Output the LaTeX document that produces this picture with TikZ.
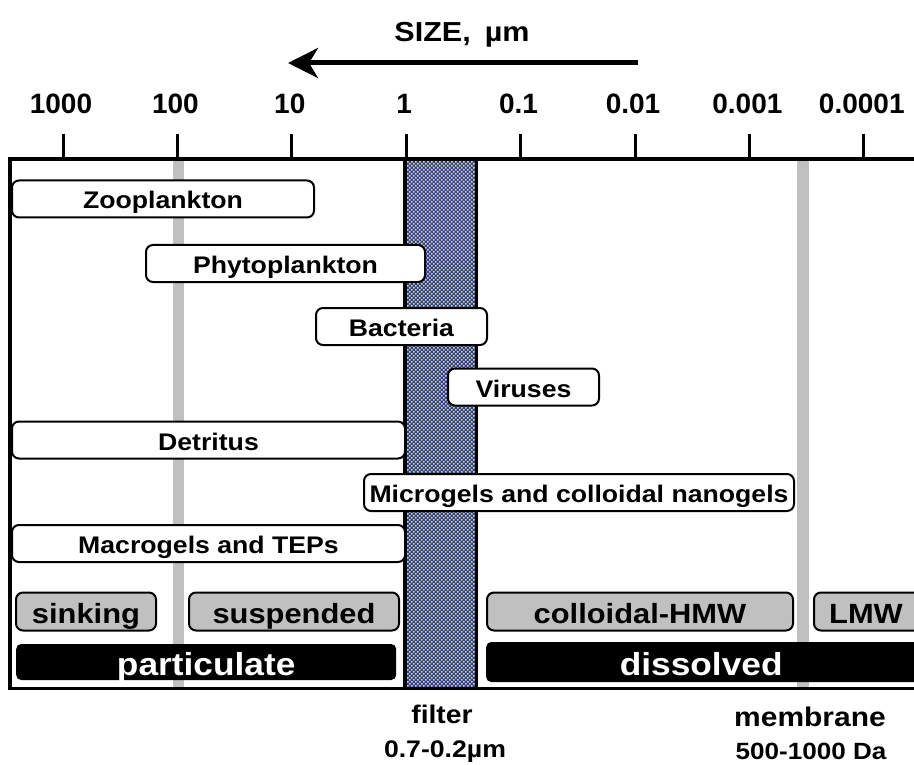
\documentclass[tikz,border=0pt]{standalone}
\usepackage{fontspec}
\setmainfont{Liberation Sans}[FakeStretch=1.11]
\newfontfamily\plainfont{Liberation Sans}
\usetikzlibrary{arrows.meta}
\definecolor{lgray}{HTML}{C0C0C0}
\definecolor{filterblue}{HTML}{1F4689}
\definecolor{peach}{HTML}{F2C9A2}
\newcommand{\fs}[1]{\fontsize{#1}{#1}\selectfont\bfseries}
\tikzset{
  wbox/.style={draw, line width=2pt, rounded corners=7pt, fill=white, minimum height=37pt, inner sep=0pt, font=\fs{24}, anchor=west, text height=20pt, text depth=0pt},
  gbox/.style={draw, line width=2pt, rounded corners=7pt, fill=lgray, minimum height=38pt, inner sep=0pt, font=\fs{27.8}, anchor=west, text height=23pt, text depth=0pt},
  kbox/.style={fill=black, text=white, rounded corners=5pt, inner sep=0pt, font=\fs{31.8}, anchor=west, text height=26pt, text depth=0pt},
  ticklbl/.style={font=\plainfont\fs{28}, inner sep=0pt, anchor=base},
  lbl/.style={inner sep=0pt, anchor=base},
  axline/.style={line width=3.5pt},
  gline/.style={lgray, line width=11pt},
}
\begin{document}
\begin{tikzpicture}[x=1pt,y=-1pt]
\useasboundingbox (0,0) rectangle (914,765);
% title and arrow
\node[lbl, font=\fs{27.5}] (title) at (462,42) {SIZE,\hspace{14pt}µm};
\coordinate (arrS) at (638,63);
\coordinate (arrE) at (288,63);
\draw[line width=5pt, -{Stealth[length=30pt,width=30pt,inset=9pt]}] (arrS) -- (arrE);
% tick labels and ticks
\foreach \lab [count=\i from 0] in {1000,100,10,1,0.1,0.01,0.001,0.0001}{
  \node[ticklbl] (t\i) at ({61+\i*114.4},114) {\lab};
  \draw[line width=3pt] ({63+\i*114.4},134) -- ({63+\i*114.4},159);
}
% gray lines
\draw[gline] (178,159) -- (178,688);
\draw[gline, line width=12pt] (803,159) -- (803,688);
% filter
\fill[filterblue] (405,159) rectangle (476,688);
\fill[peach] \foreach \xx in {407,411,...,471}{ \foreach \yy in {161,165,...,685}{
  (\xx,\yy) rectangle ++(1.6,1.6) (\xx+2,\yy+2) rectangle ++(1.6,1.6) } };
\draw[line width=3.5pt] (405,159) -- (405,688);
\draw[line width=3pt] (476,159) -- (476,688);
% frame
\draw[axline] (10,159) -- (914,159);
\draw[axline] (10,157.5) -- (10,689.5);
\draw[line width=3pt] (10,688) -- (914,688);
% organism boxes
\node[wbox, minimum width=302pt] (zoo) at (11,199) {Zooplankton};
\node[wbox, minimum width=279pt] (phyto) at (145,263.5) {Phytoplankton};
\node[wbox, minimum width=171pt] (bact) at (315,326.5) {Bacteria};
\node[wbox, minimum width=151pt] (vir) at (447,387) {Viruses};
\node[wbox, minimum width=393pt] (detr) at (11,440) {Detritus};
\node[wbox, minimum width=430pt] (micro) at (363,492.5) {Microgels and colloidal nanogels};
\node[wbox, minimum width=393pt] (macro) at (11,543.5) {Macrogels and TEPs};
% size classes
\node[gbox, minimum width=140pt] (sink) at (15,611.5) {sinking};
\node[gbox, minimum width=210pt] (susp) at (188,611.5) {suspended};
\node[gbox, minimum width=306pt] (hmw) at (486,611.5) {colloidal-HMW};
\node[gbox, minimum width=120pt] (lmw) at (813,611.5) {LMW\hspace*{16pt}};
\node[kbox, minimum width=380pt, minimum height=36pt] (part) at (16,662) {particulate};
\node[kbox, minimum width=444pt, minimum height=40pt] (diss) at (486,662) {dissolved\hspace*{14pt}};
% bottom labels
\node[lbl, font=\fs{25.5}] (filt) at (442,723) {filter};
\node[lbl, font=\fs{24}] (filtv) at (445,757) {0.7-0.2µm};
\node[lbl, font=\fs{27}] (memb) at (810,726) {membrane};
\node[lbl, font=\fs{23.5}] (membv) at (811,759) {500-1000 Da};
\end{tikzpicture}
\end{document}
